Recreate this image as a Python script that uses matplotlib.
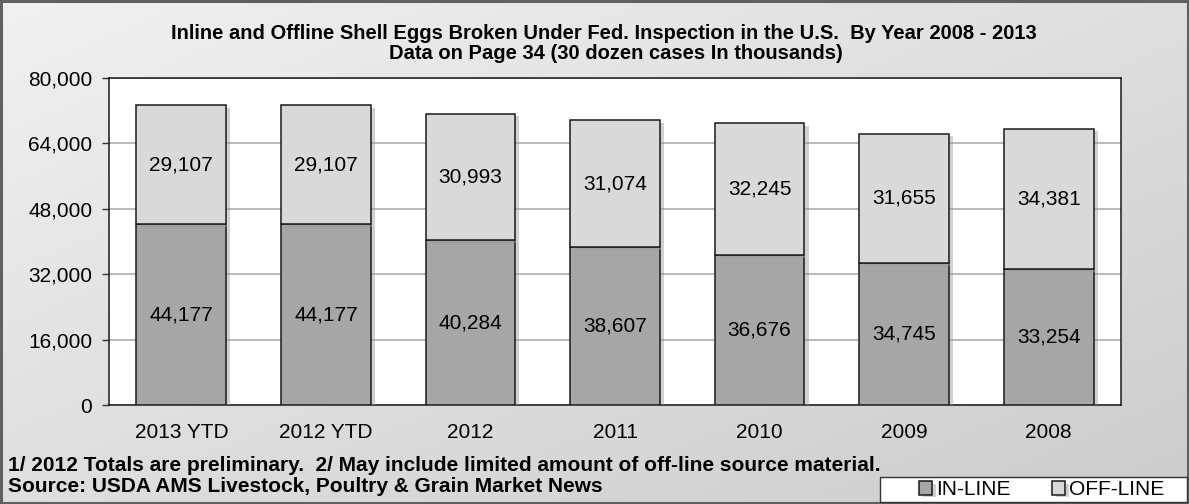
import numpy as np
import matplotlib.pyplot as plt
import matplotlib.patheffects as pe
from matplotlib.patches import Rectangle
from matplotlib.ticker import FuncFormatter

plt.rcParams['font.family'] = ['Liberation Sans', 'DejaVu Sans']

years = ["2013 YTD", "2012 YTD", "2012", "2011", "2010", "2009", "2008"]
inline = [44177, 44177, 40284, 38607, 36676, 34745, 33254]
offline = [29107, 29107, 30993, 31074, 32245, 31655, 34381]

fig = plt.figure(figsize=(11.89, 5.04), dpi=100)

# gradient background: light at the top-left, darker toward bottom-right
bg = fig.add_axes([0, 0, 1, 1], zorder=-10)
g = np.linspace(0, 1, 256)
t = np.add.outer(1 - g, g) / 2.0
t = t[::-1]
light, dark = 0.945, 0.80
shade = dark + (light - dark) * (1 - t)
rgb = np.dstack([shade, shade, shade])
bg.imshow(rgb, aspect='auto', extent=[0, 1, 0, 1], origin='upper')
bg.set_xlim(0, 1)
bg.set_ylim(0, 1)
bg.add_patch(Rectangle((0.001, 0.002), 0.998, 0.996, fill=False,
                       edgecolor='#606060', linewidth=2.2))
bg.axis('off')

ax = fig.add_axes([0.0917, 0.1964, 0.8511, 0.6488])
ax.set_facecolor('white')
x = np.arange(len(years))
shadow = [pe.SimplePatchShadow(offset=(3, -2), shadow_rgbFace='#9a9a9a', alpha=0.45), pe.Normal()]
b1 = ax.bar(x, inline, width=0.62, color='#a6a6a6', edgecolor='#1a1a1a',
            linewidth=1.1, zorder=3, label='IN-LINE')
b2 = ax.bar(x, offline, width=0.62, bottom=inline, color='#d9d9d9',
            edgecolor='#1a1a1a', linewidth=1.1, zorder=3, label='OFF-LINE')
for r in list(b1) + list(b2):
    r.set_path_effects(shadow)

for i in range(len(years)):
    ax.text(x[i], inline[i] / 2, f"{inline[i]:,}", ha='center', va='center',
            fontsize=15, zorder=5)
    ax.text(x[i], inline[i] + offline[i] / 2, f"{offline[i]:,}", ha='center',
            va='center', fontsize=15, zorder=5)

ax.set_xlim(-0.5, len(years) - 0.5)
ax.set_ylim(0, 80000)
ax.set_yticks(np.arange(0, 80001, 16000))
ax.yaxis.set_major_formatter(FuncFormatter(lambda v, p: f"{int(v):,}"))
ax.set_xticks(x)
ax.set_xticklabels(years)
ax.tick_params(axis='y', labelsize=15, length=5, width=1, color='#333333', pad=7)
ax.tick_params(axis='x', labelsize=15, length=0, pad=13)
ax.grid(axis='y', color='#a6a6a6', linewidth=1.1, zorder=0)
ax.set_axisbelow(True)
for s in ax.spines.values():
    s.set_color('#1a1a1a')
    s.set_linewidth(1.1)

fig.text(0.508, 0.934, "Inline and Offline Shell Eggs Broken Under Fed. Inspection in the U.S.  By Year 2008 - 2013",
         ha='center', va='center', fontsize=14.5, fontweight='bold')
fig.text(0.518, 0.894, "Data on Page 34 (30 dozen cases In thousands)",
         ha='center', va='center', fontsize=14.5, fontweight='bold')

fig.text(0.007, 0.077, "1/ 2012 Totals are preliminary.  2/ May include limited amount of off-line source material.",
         ha='left', va='center', fontsize=15, fontweight='bold')
fig.text(0.007, 0.035, "Source: USDA AMS Livestock, Poultry & Grain Market News",
         ha='left', va='center', fontsize=15, fontweight='bold')

# legend box in the lower right corner
lx0 = 880 / 1189
bg.add_patch(Rectangle((lx0, 0.004), 1 - lx0 - 0.002, (504 - 477) / 504 - 0.004,
                       facecolor='white', edgecolor='#333333', linewidth=1, zorder=2))
fig.legend(handles=[b1, b2], loc='center', bbox_to_anchor=((lx0 + 1) / 2 + 0.006, 0.028),
           ncol=2, frameon=False, fontsize=15, handlelength=0.6, handleheight=0.6,
           handletextpad=0.2, columnspacing=2.0, borderpad=0)

fig.savefig('out.png', dpi=100)
